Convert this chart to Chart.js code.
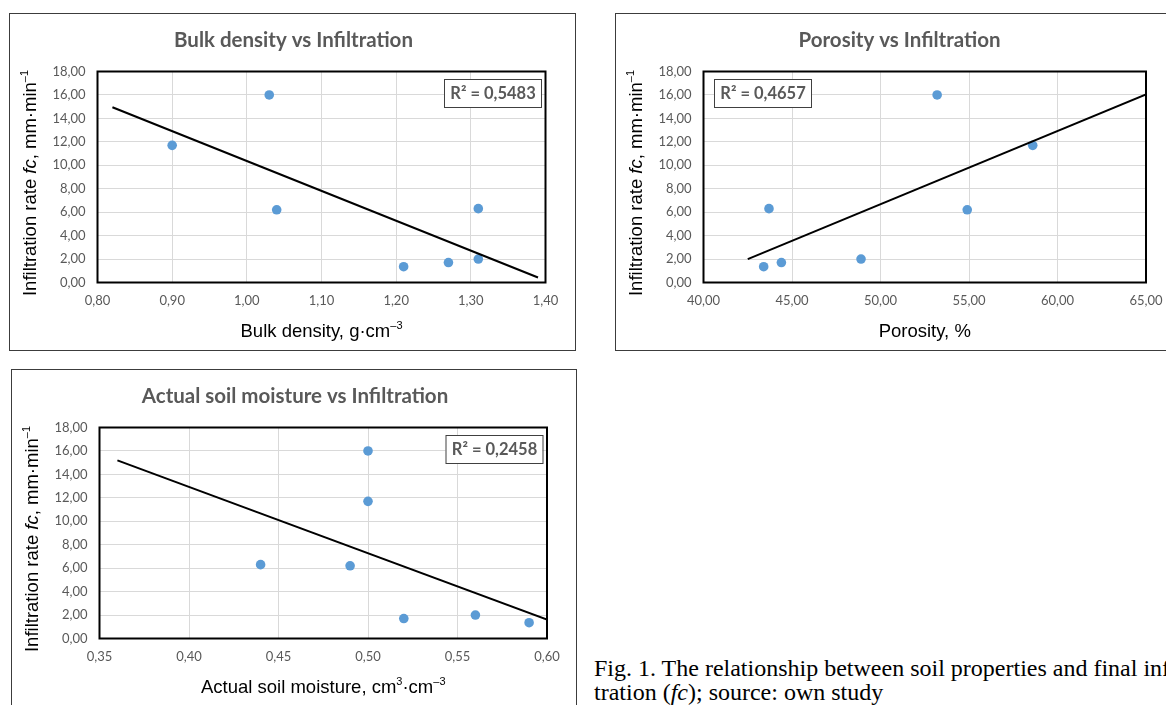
<!DOCTYPE html>
<html>
<head>
<meta charset="utf-8">
<script src="https://cdn.jsdelivr.net/npm/chart.js@4.4.1/dist/chart.umd.min.js"></script>
<style>
    body { margin: 0; width: 1166px; height: 705px; overflow: hidden; background: #fff; position: relative; }
    .box { position: absolute; border: 1px solid #3c3c3c; box-sizing: border-box; background: #fff; }
    .box canvas { display: block; }
    #caption { position: absolute; left: 594px; top: 656px; font: 24px "Liberation Serif", "Times New Roman", serif; line-height: 24px; white-space: nowrap; color: #000; }
</style>
</head>
<body>

<div class="box" style="left:9px; top:13px; width:567px; height:338px;"><canvas id="bulk-chart" width="565" height="336"></canvas></div>
<div class="box" style="left:615px; top:13px; width:567px; height:338px;"><canvas id="porosity-chart" width="565" height="336"></canvas></div>
<div class="box" style="left:11px; top:369px; width:566px; height:338px;"><canvas id="moisture-chart" width="564" height="336"></canvas></div>

<div id="caption">Fig. 1. The relationship between soil properties and final infil-<br>tration (<i>fc</i>); source: own study</div>

<script>
// values
const bulkDensity = [0.90, 1.03, 1.04, 1.21, 1.27, 1.31, 1.31];
const bulkInfiltration = [11.7, 16.0, 6.2, 1.35, 1.7, 2.0, 6.3];
const bulkTrendX = [0.82, 1.39];
const bulkTrendY = [14.95, 0.43];

const porosity = [43.4, 43.7, 44.4, 48.9, 53.2, 54.9, 58.6];
const porosityInfiltration = [1.35, 6.3, 1.7, 2.0, 16.0, 6.2, 11.7];
const porosityTrendX = [42.5, 65.0];
const porosityTrendY = [2.0, 16.05];

const moisture = [0.44, 0.49, 0.50, 0.50, 0.52, 0.56, 0.59];
const moistureInfiltration = [6.3, 6.2, 16.0, 11.7, 1.7, 2.0, 1.35];
const moistureTrendX = [0.36, 0.60];
const moistureTrendY = [15.2, 1.62];

const yTitle = 'Infiltration rate <i>fc</i>, mm·min<sup>–1</sup>';

const commaFormat = v => Number(v).toFixed(2).replace('.', ',');

// draws a label with italic / superscript parts, centred on (x, y)
function drawRich(ctx, markup, x, y, size, rotate) {
    const parts = [];
    markup.replace(/<(i|sup)>(.*?)<\/\1>|([^<]+)/g, (m, tag, inner, plain) => {
        parts.push(plain ? { text: plain } : { text: inner, tag: tag });
    });
    const fontFor = p => (p.tag === 'i' ? 'italic ' : '') + (p.tag === 'sup' ? Math.round(size * 0.62) : size) + 'px "Liberation Sans", Arial, sans-serif';
    let total = 0;
    parts.forEach(p => { ctx.font = fontFor(p); p.w = ctx.measureText(p.text).width; total += p.w; });

    ctx.save();
    ctx.translate(x, y);
    if (rotate) ctx.rotate(-Math.PI / 2);
    ctx.fillStyle = '#000';
    ctx.textBaseline = 'alphabetic';
    let cx = -total / 2;
    const base = size * 0.36;
    parts.forEach(p => {
        ctx.font = fontFor(p);
        ctx.fillText(p.text, cx, p.tag === 'sup' ? base - size * 0.42 : base);
        cx += p.w;
    });
    ctx.restore();
}

const framePlugin = {
    id: 'frame',
    beforeDatasetsDraw(chart) {
        const a = chart.chartArea;
        const ctx = chart.ctx;
        ctx.save();
        ctx.strokeStyle = '#000';
        ctx.lineWidth = 2;
        ctx.strokeRect(a.left, a.top, a.right - a.left, a.bottom - a.top);
        ctx.restore();
    },
    afterDatasetsDraw(chart, args, opts) {
        const a = chart.chartArea;
        const ctx = chart.ctx;
        const w = 97, h = 28;
        const x = opts.r2Side === 'left' ? a.left + 10.5 : a.right - 4.5 - w;
        const y = a.top + 7.5;
        ctx.save();
        ctx.fillStyle = '#fff';
        ctx.fillRect(x, y, w, h);
        ctx.strokeStyle = '#404040';
        ctx.lineWidth = 1;
        ctx.strokeRect(x + 0.5, y + 0.5, w, h);
        ctx.fillStyle = '#595959';
        ctx.font = 'bold 16.5px Lato, "Liberation Sans", sans-serif';
        ctx.textAlign = 'center';
        ctx.textBaseline = 'middle';
        ctx.fillText('R² = ' + opts.r2, x + w / 2 + 0.5, y + h / 2 + 1);
        ctx.restore();
    },
    afterDraw(chart, args, opts) {
        const a = chart.chartArea;
        const ctx = chart.ctx;
        // chart title, centred on the whole box
        ctx.save();
        ctx.fillStyle = '#595959';
        ctx.font = 'bold 20.5px Lato, sans-serif';
        ctx.textAlign = 'center';
        ctx.textBaseline = 'middle';
        ctx.fillText(opts.title, chart.width / 2 + 1, 26);
        ctx.restore();
        drawRich(ctx, opts.xTitle, (a.left + a.right) / 2, a.bottom + 48, 18.5, false);
        drawRich(ctx, yTitle, 19, (a.top + a.bottom) / 2 + 6, 18.5, true);
    }
};

function makeChart(canvasId, cfg) {
    const ctx = document.getElementById(canvasId).getContext('2d');
    return new Chart(ctx, {
        type: 'scatter',
        data: {
            datasets: [
                {
                    label: 'Trend',
                    data: cfg.trendX.map((x, i) => ({ x: x, y: cfg.trendY[i] })),
                    showLine: true,
                    borderColor: '#000',
                    borderWidth: 2,
                    pointRadius: 0,
                    order: 0
                },
                {
                    label: 'Measured',
                    data: cfg.x.map((x, i) => ({ x: x, y: cfg.y[i] })),
                    backgroundColor: '#5b9bd5',
                    borderColor: '#5b9bd5',
                    borderWidth: 0,
                    pointRadius: 4.8,
                    order: 1
                }
            ]
        },
        options: {
            responsive: false,
            animation: false,
            layout: { padding: { left: 0, right: cfg.rightPad, top: 57.5, bottom: 0 } },
            plugins: {
                legend: { display: false },
                tooltip: { enabled: false },
                title: { display: false },
                frame: { title: cfg.title, xTitle: cfg.xTitle, r2: cfg.r2, r2Side: cfg.r2Side }
            },
            scales: {
                x: {
                    type: 'linear',
                    min: cfg.xMin,
                    max: cfg.xMax,
                    afterFit: s => { s.height = 67.5; },
                    grid: { color: '#d9d9d9', drawTicks: false },
                    border: { display: false },
                    ticks: { stepSize: cfg.xStep, padding: 11, color: '#595959', font: { family: 'Lato', size: 13 }, callback: commaFormat, maxRotation: 0 }
                },
                y: {
                    min: 0,
                    max: 18,
                    afterFit: s => { s.width = 87.5; },
                    grid: { color: '#d9d9d9', drawTicks: false },
                    border: { display: false },
                    ticks: { stepSize: 2, padding: 12, color: '#595959', font: { family: 'Lato', size: 13 }, callback: commaFormat }
                }
            }
        },
        plugins: [framePlugin]
    });
}

makeChart('bulk-chart', {
    title: 'Bulk density vs Infiltration',
    x: bulkDensity, y: bulkInfiltration, trendX: bulkTrendX, trendY: bulkTrendY,
    xMin: 0.8, xMax: 1.4, xStep: 0.1,
    xTitle: 'Bulk density, g·cm<sup>–3</sup>',
    r2: '0,5483', r2Side: 'right', rightPad: 29.5
});

makeChart('porosity-chart', {
    title: 'Porosity vs Infiltration',
    x: porosity, y: porosityInfiltration, trendX: porosityTrendX, trendY: porosityTrendY,
    xMin: 40, xMax: 65, xStep: 5,
    xTitle: 'Porosity, %',
    r2: '0,4657', r2Side: 'left', rightPad: 35
});

makeChart('moisture-chart', {
    title: 'Actual soil moisture vs Infiltration',
    x: moisture, y: moistureInfiltration, trendX: moistureTrendX, trendY: moistureTrendY,
    xMin: 0.35, xMax: 0.6, xStep: 0.05,
    xTitle: 'Actual soil moisture, cm<sup>3</sup>·cm<sup>–3</sup>',
    r2: '0,2458', r2Side: 'right', rightPad: 29
});
</script>
</body>
</html>
